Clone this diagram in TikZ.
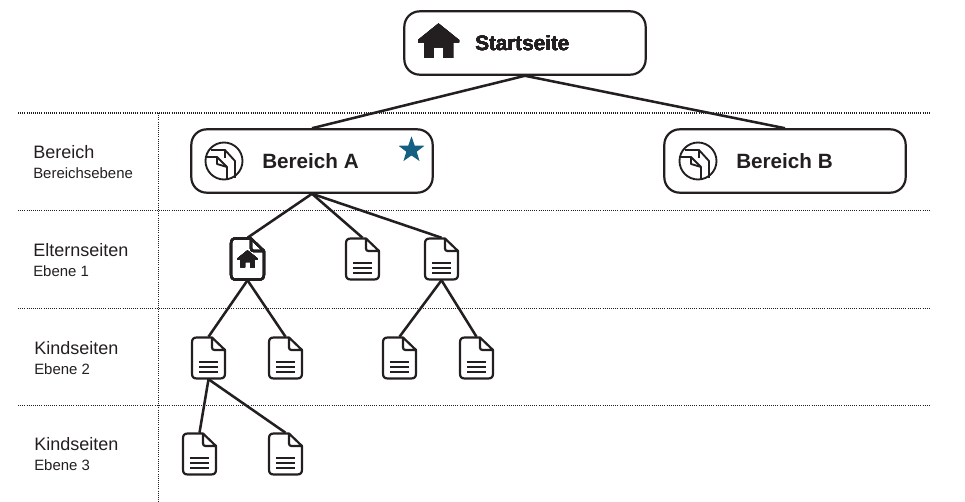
\documentclass[tikz,border=0pt]{standalone}
\usepackage{fontspec}
\setmainfont{Liberation Sans}
\usetikzlibrary{shapes.geometric}
\definecolor{inkdark}{HTML}{231F20}
\definecolor{starblue}{HTML}{156082}
\tikzset{
  areabox/.style={draw=inkdark,line width=1.65pt,rounded corners=11.5pt,fill=white,
    minimum width=181pt,minimum height=47.5pt,inner sep=0pt},
  pagebox/.style={minimum width=25.5pt,minimum height=31.5pt,inner sep=0pt},
  link/.style={draw=inkdark,line width=1.9pt},
  rowline/.style={draw=inkdark,line width=0.6pt,densely dotted},
  titletext/.style={font=\fontsize{15.5}{18}\selectfont\bfseries,text=inkdark,anchor=west,inner sep=0pt},
  rowtitle/.style={font=\fontsize{13.5}{16}\selectfont,text=inkdark,anchor=west,inner sep=0pt},
  rowsub/.style={font=\fontsize{11.2}{14}\selectfont,text=inkdark,anchor=west,inner sep=0pt}
}
% house, centred on #1, scaled by #2
\newcommand{\houseicon}[2]{
  \fill[inkdark,shift={(#1)},scale=#2] (0,-17.5) -- (20.5,-1) -- (20.5,1.5) -- (14.5,1.5) -- (14.5,17)
    -- (5,17) -- (5,6.5) -- (-5,6.5) -- (-5,17) -- (-14.5,17) -- (-14.5,1.5) -- (-20.5,1.5) -- (-20.5,-1) -- cycle;
}
% page outline with fold, on node #1
\newcommand{\pageicon}[1]{
  \draw[inkdark,line width=1.65pt,line join=round,shift={(#1)}] (3.5,-20.5) -- (-11.5,-20.5)
    .. controls (-15,-20.5) and (-16.5,-19) .. (-16.5,-15.5) -- (-16.5,15.5)
    .. controls (-16.5,19) and (-15,20.5) .. (-11.5,20.5) -- (11.5,20.5)
    .. controls (15,20.5) and (16.5,19) .. (16.5,15.5) -- (16.5,-8) -- (3.5,-20.5) -- (3.5,-10.5)
    .. controls (3.5,-9) and (4.5,-8) .. (6,-8) -- (16.5,-8);
}
\newcommand{\linedpage}[1]{
  \pageicon{#1}
  \foreach \dy in {4,9,14}
    \draw[inkdark,line width=1.9pt,shift={(#1)}] (-9.5,\dy) -- (9.5,\dy);
}
% circle with two sheets, centred on #1
\newcommand{\areaicon}[1]{
  \begin{scope}[shift={(#1)},draw=inkdark,line width=1.4pt,line join=round]
    \draw (0,0) circle[radius=18.5];
    \draw (-13,-11) -- (1,-11) -- (11,0) -- (11,17);
    \draw (1,-11) -- (1,-3);
    \draw (-17,-4) -- (-7,-4) -- (3,6) -- (3,18);
    \draw (-7,-4) -- (-7,3) -- (3,6);
  \end{scope}
}
\begin{document}
\begin{tikzpicture}[x=0.75pt,y=-0.75pt]
  \useasboundingbox (0,0) rectangle (965,502);
  % rows
  \draw[rowline,line width=1.1pt] (18,113) coordinate (topl) -- (930,113) coordinate (topr);
  \foreach \y in {210,308,405}
    \draw[rowline] (18,\y) -- (930,\y);
  \draw[rowline] (158,113) -- (158,502);
  \node[rowtitle] (lab1) at (33,152) {Bereich};
  \node[rowsub] (sub1) at (33,173) {Bereichsebene};
  \node[rowtitle] (lab2) at (33,250) {Elternseiten};
  \node[rowsub] (sub2) at (33,271) {Ebene 1};
  \node[rowtitle] (lab3) at (34,348) {Kindseiten};
  \node[rowsub] (sub3) at (34,369) {Ebene 2};
  \node[rowtitle] (lab4) at (34,444) {Kindseiten};
  \node[rowsub] (sub4) at (34,465) {Ebene 3};
  % pages
  \node[pagebox] (eltern1) at (247.5,259) {};
  \node[pagebox] (eltern2) at (362.5,259) {};
  \node[pagebox] (eltern3) at (441.5,259) {};
  \node[pagebox] (kind1) at (208.5,358) {};
  \node[pagebox] (kind2) at (285.5,358) {};
  \node[pagebox] (kind3) at (399.5,358) {};
  \node[pagebox] (kind4) at (476.5,358) {};
  \node[pagebox] (unter1) at (199.5,454) {};
  \node[pagebox] (unter2) at (285.5,454) {};
  % links
  \coordinate (startfoot) at (525,75);
  \node[areabox] (start) at (525,43) {};
  \node[areabox] (bereicha) at (312,161) {};
  \node[areabox] (bereichb) at (785,161) {};
  \draw[link] (start.south) -- (bereicha.north);
  \draw[link] (start.south) -- (bereichb.north);
  \foreach \a/\b in {bereicha/eltern1,bereicha/eltern2,bereicha/eltern3,eltern1/kind1,eltern1/kind2,eltern3/kind3,eltern3/kind4,kind1/unter1,kind1/unter2}
    \draw[link] (\a.south) -- (\b.north);
  \foreach \p in {eltern2,eltern3,kind1,kind2,kind3,kind4,unter1,unter2}
    \linedpage{\p}
  \pageicon{eltern1}
  \houseicon{eltern1.center}{0.5}
  % boxes
  \houseicon{438.5,41}{1}
  \node[titletext] (starttext) at (475,43) {Startseite};
  \areaicon{224,161}
  \node[titletext] (atext) at (262,161) {Bereich A};
  \areaicon{698,161}
  \node[titletext] (btext) at (736,161) {Bereich B};
  \node[star,star points=5,star point ratio=2.5,fill=starblue,inner sep=0pt,minimum size=20.5pt] (mark) at (411.5,150) {};
\end{tikzpicture}
\end{document}
